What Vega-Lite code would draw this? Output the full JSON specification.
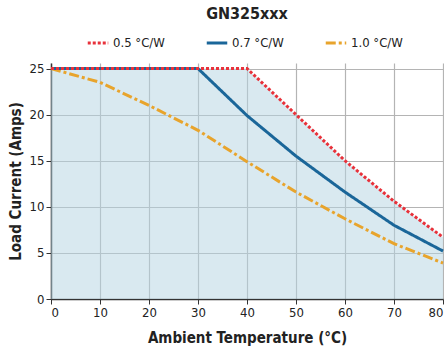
{
  "$schema": "https://vega.github.io/schema/vega-lite/v6.json",
  "width": 392,
  "height": 236,
  "autosize": {"type": "none"},
  "padding": {"left": 51, "top": 63, "right": 1, "bottom": 53},
  "title": {"text": "GN325xxx", "font": "DejaVu Sans Condensed", "fontSize": 16, "fontWeight": "bold", "color": "#222222", "anchor": "middle", "frame": "group", "offset": 9},
  "config": {
    "view": {"stroke": null},
    "font": "DejaVu Sans Condensed",
    "axis": {"labelFont": "DejaVu Sans Condensed", "titleFont": "DejaVu Sans Condensed", "labelFontSize": 13, "titleFontSize": 15, "titleFontWeight": "bold", "labelColor": "#222222", "titleColor": "#222222", "domainColor": "#333333", "domainWidth": 1.5, "tickColor": "#333333", "tickSize": 5}
  },
  "data": {"values": [
    {"t": 0, "i": 25, "s": "1.0 °C/W"},
    {"t": 10, "i": 23.5, "s": "1.0 °C/W"},
    {"t": 20, "i": 21.0, "s": "1.0 °C/W"},
    {"t": 30, "i": 18.3, "s": "1.0 °C/W"},
    {"t": 40, "i": 14.9, "s": "1.0 °C/W"},
    {"t": 50, "i": 11.6, "s": "1.0 °C/W"},
    {"t": 60, "i": 8.7, "s": "1.0 °C/W"},
    {"t": 70, "i": 6.0, "s": "1.0 °C/W"},
    {"t": 80, "i": 3.9, "s": "1.0 °C/W"},
    {"t": 0, "i": 25, "s": "0.7 °C/W"},
    {"t": 10, "i": 25, "s": "0.7 °C/W"},
    {"t": 20, "i": 25, "s": "0.7 °C/W"},
    {"t": 30, "i": 25, "s": "0.7 °C/W"},
    {"t": 40, "i": 19.9, "s": "0.7 °C/W"},
    {"t": 50, "i": 15.5, "s": "0.7 °C/W"},
    {"t": 60, "i": 11.6, "s": "0.7 °C/W"},
    {"t": 70, "i": 8.0, "s": "0.7 °C/W"},
    {"t": 80, "i": 5.2, "s": "0.7 °C/W"},
    {"t": 0, "i": 25, "s": "0.5 °C/W"},
    {"t": 10, "i": 25, "s": "0.5 °C/W"},
    {"t": 20, "i": 25, "s": "0.5 °C/W"},
    {"t": 30, "i": 25, "s": "0.5 °C/W"},
    {"t": 40, "i": 25, "s": "0.5 °C/W"},
    {"t": 50, "i": 20, "s": "0.5 °C/W"},
    {"t": 60, "i": 15, "s": "0.5 °C/W"},
    {"t": 70, "i": 10.6, "s": "0.5 °C/W"},
    {"t": 80, "i": 6.7, "s": "0.5 °C/W"}
  ]},
  "encoding": {
    "x": {"field": "t", "type": "quantitative", "scale": {"domain": [0, 80], "nice": false}, "axis": {"grid": true, "gridColor": "#b4b4b4", "gridWidth": 1.2, "tickCount": 8, "title": "Ambient Temperature (°C)", "titlePadding": 11}},
    "y": {"field": "i", "type": "quantitative", "scale": {"domain": [0, 25.6], "nice": false}, "axis": {"grid": true, "gridColor": "#b4b4b4", "gridWidth": 1.2, "values": [0, 5, 10, 15, 20, 25], "title": "Load Current (Amps)", "titlePadding": 6}}
  },
  "layer": [
    {
      "transform": [{"filter": "datum.s === '0.5 °C/W'"}],
      "mark": {"type": "area", "color": "#b3d3e1", "opacity": 0.5}
    },
    {
      "mark": {"type": "line", "strokeWidth": 3, "clip": false},
      "encoding": {
        "color": {"field": "s", "type": "nominal", "scale": {"domain": ["0.5 °C/W", "0.7 °C/W", "1.0 °C/W"], "range": ["#e8313a", "#1a6699", "#e8a42c"]},
          "legend": {"title": null, "orient": "none", "direction": "horizontal", "legendX": 35, "legendY": -32, "symbolType": "stroke", "symbolSize": 420, "symbolStrokeWidth": 3, "labelFontSize": 13, "labelFont": "DejaVu Sans Condensed", "labelColor": "#222222", "labelOffset": 3, "columnPadding": 35}},
        "strokeDash": {"field": "s", "type": "nominal", "scale": {"domain": ["0.5 °C/W", "0.7 °C/W", "1.0 °C/W"], "range": [[3, 2], [1, 0], [10, 3, 3, 3]]}, "legend": null}
      }
    }
  ]
}
